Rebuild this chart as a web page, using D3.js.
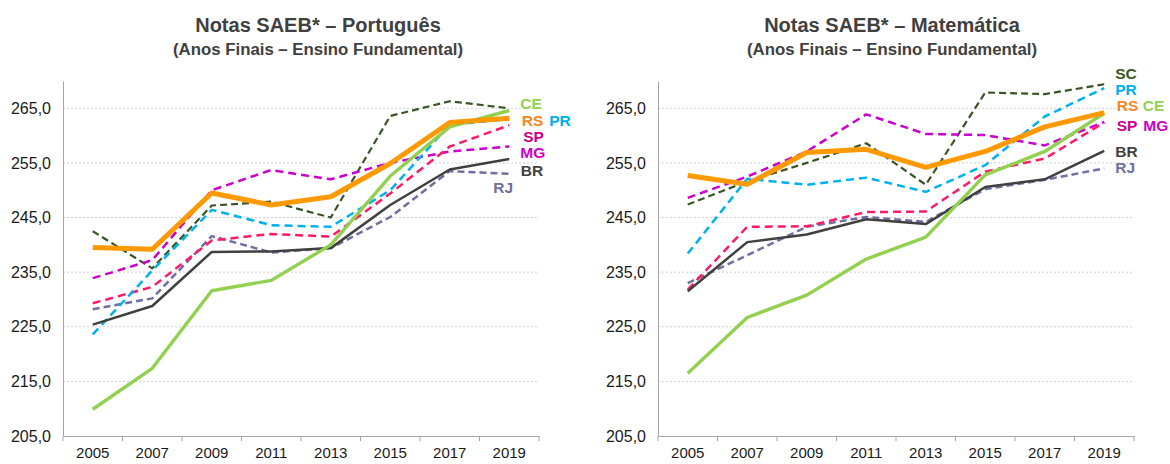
<!DOCTYPE html>
<html>
<head>
<meta charset="utf-8">
<script src="https://cdn.jsdelivr.net/npm/d3@7"></script>
<style>
  body { margin: 0; background: #fff; }
  text { font-family: "Liberation Sans", Arial, sans-serif; }
</style>
</head>
<body>
<div id="vis-svg"></div>
<script>
// anos das avaliações
var years = ["2005", "2007", "2009", "2011", "2013", "2015", "2017", "2019"];
var yTicks = [205, 215, 225, 235, 245, 255, 265];

// Português
var portSC = [242.5, 235.7, 247.2, 247.9, 245.0, 263.6, 266.3, 265.0];
var portRJ = [228.2, 230.2, 241.6, 238.6, 239.4, 245.1, 253.5, 253.0];
var portMG = [233.9, 237.2, 250.0, 253.7, 252.0, 255.0, 257.1, 258.0];
var portSP = [229.3, 232.3, 240.8, 242.0, 241.5, 249.4, 258.0, 261.9];
var portPR = [223.6, 235.3, 246.4, 243.6, 243.3, 250.0, 262.0, 263.0];
var portBR = [225.4, 228.8, 238.7, 238.8, 239.4, 247.3, 253.8, 255.7];
var portCE = [209.9, 217.4, 231.6, 233.5, 240.0, 252.6, 261.6, 264.6];
var portRS = [239.5, 239.2, 249.5, 247.3, 248.8, 254.9, 262.4, 263.2];

// Matemática
var matSC = [247.4, 251.6, 255.0, 258.6, 251.0, 267.9, 267.6, 269.4];
var matRJ = [233.0, 238.1, 243.3, 245.1, 244.2, 250.2, 251.9, 254.0];
var matMG = [248.6, 252.5, 257.1, 263.9, 260.3, 260.1, 258.2, 262.5];
var matSP = [231.8, 243.3, 243.4, 246.0, 246.1, 253.4, 255.8, 262.4];
var matPR = [238.4, 252.1, 251.0, 252.3, 249.7, 254.6, 263.5, 268.7];
var matBR = [231.5, 240.5, 241.9, 244.7, 243.8, 250.6, 252.0, 257.2];
var matCE = [216.5, 226.7, 230.8, 237.4, 241.4, 252.8, 257.1, 264.1];
var matRS = [252.7, 251.1, 256.9, 257.5, 254.2, 257.1, 261.6, 264.2];

// estilos das linhas (ordem = ordem de desenho)
var styles = {
  SC: { color: "#375623", width: 2.2, dash: "7,4" },
  RJ: { color: "#6F6FA3", width: 2.5, dash: "7,4" },
  MG: { color: "#CC00CC", width: 2.5, dash: "8,5" },
  SP: { color: "#FF1A66", width: 2.5, dash: "8,5" },
  PR: { color: "#00B0F0", width: 2.5, dash: "8,5" },
  BR: { color: "#404040", width: 2.5, dash: null },
  CE: { color: "#92D050", width: 3.4, dash: null },
  RS: { color: "#FF9900", width: 5, dash: null }
};
var labelColors = { SC: "#375623", RJ: "#7070A0", MG: "#CC00CC", SP: "#C8008C",
                    PR: "#00B0F0", BR: "#404040", CE: "#92D050", RS: "#F7861C" };

// rótulos: [texto, valor no eixo y, deslocamento x a partir de 2019]
var portLabels = [["CE", 265.9, 11], ["RS", 262.7, 12.5], ["PR", 262.7, 40], ["SP", 259.8, 14],
                  ["MG", 257.0, 11], ["BR", 253.6, 11.5], ["RJ", 250.5, -16]];
var matLabels = [["SC", 271.3, 11], ["PR", 268.5, 11], ["RS", 265.5, 12.5], ["CE", 265.5, 38.5],
                 ["SP", 261.8, 12.5], ["MG", 261.8, 39], ["BR", 257.1, 11], ["RJ", 254.2, 11]];

var width = 1170;
var height = 464;

var svg = d3
  .select("#vis-svg")
  .append("svg")
  .attr("width", width)
  .attr("height", height)
  .style("background", "#fff");

var fmt = d3.formatLocale({ decimal: ",", thousands: ".", grouping: [3], currency: ["R$", ""] }).format(".1f");

drawChart({
  left: 63, right: 539, top: 81, bottom: 436, titleX: 318,
  title: "Notas SAEB* – Português",
  series: { SC: portSC, RJ: portRJ, MG: portMG, SP: portSP, PR: portPR, BR: portBR, CE: portCE, RS: portRS },
  labels: portLabels
});

drawChart({
  left: 658, right: 1134, top: 81, bottom: 436, titleX: 892,
  title: "Notas SAEB* – Matemática",
  series: { SC: matSC, RJ: matRJ, MG: matMG, SP: matSP, PR: matPR, BR: matBR, CE: matCE, RS: matRS },
  labels: matLabels
});

function drawChart(cfg) {
  var g = svg.append("g");

  var x = d3.scaleBand().domain(years).range([cfg.left, cfg.right]);
  var y = d3.scaleLinear().domain([205, 270]).range([cfg.bottom, cfg.top]);
  var cx = function(d, i) { return x(years[i]) + x.bandwidth() / 2; };

  // titulo
  g.append("text")
    .attr("x", cfg.titleX).attr("y", 32)
    .attr("text-anchor", "middle")
    .style("font-size", "20px").style("font-weight", "bold").style("fill", "#404040")
    .text(cfg.title);
  g.append("text")
    .attr("x", cfg.titleX).attr("y", 54.5)
    .attr("text-anchor", "middle")
    .style("font-size", "16.8px").style("font-weight", "bold").style("fill", "#404040")
    .text("(Anos Finais – Ensino Fundamental)");

  // grade
  g.append("g")
    .selectAll("line")
    .data(yTicks.slice(1))
    .enter()
    .append("line")
    .attr("x1", cfg.left).attr("x2", cfg.right)
    .attr("y1", function(d) { return y(d); })
    .attr("y2", function(d) { return y(d); })
    .attr("stroke", "#D0D0D0")
    .attr("stroke-dasharray", "2,2");

  // eixo y
  var yAxis = g.append("g")
    .attr("transform", "translate(" + cfg.left + ",0)")
    .call(d3.axisLeft(y).tickValues(yTicks).tickSize(0).tickPadding(12).tickFormat(fmt));
  yAxis.select(".domain").attr("stroke", "#A6A6A6");
  yAxis.selectAll("text").style("font-size", "16px").style("fill", "#1a1a1a");

  // eixo x
  var xAxis = g.append("g")
    .attr("transform", "translate(0," + cfg.bottom + ")")
    .call(d3.axisBottom(x).tickSize(0).tickPadding(11));
  xAxis.select(".domain").attr("stroke", "#A6A6A6");
  xAxis.selectAll("text").style("font-size", "15px").style("fill", "#1a1a1a");
  xAxis.selectAll(".tick line").remove();
  xAxis.append("g")
    .selectAll("line")
    .data(years.concat(["end"]))
    .enter()
    .append("line")
    .attr("x1", function(d, i) { return cfg.left + i * x.bandwidth(); })
    .attr("x2", function(d, i) { return cfg.left + i * x.bandwidth(); })
    .attr("y1", 0).attr("y2", 5)
    .attr("stroke", "#A6A6A6");

  // linhas
  var line = d3.line()
    .x(cx)
    .y(function(d) { return y(d); });

  Object.keys(cfg.series).forEach(function(k) {
    var s = styles[k];
    g.append("path")
      .datum(cfg.series[k])
      .attr("d", line)
      .attr("fill", "none")
      .attr("stroke", s.color)
      .attr("stroke-width", s.width)
      .attr("stroke-linejoin", "round")
      .attr("stroke-dasharray", s.dash);
  });

  // rotulos
  var xEnd = x(years[years.length - 1]) + x.bandwidth() / 2;
  g.append("g")
    .selectAll("text")
    .data(cfg.labels)
    .enter()
    .append("text")
    .attr("x", function(d) { return xEnd + d[2]; })
    .attr("y", function(d) { return y(d[1]); })
    .attr("dy", "0.36em")
    .style("font-size", "15.5px")
    .style("font-weight", "bold")
    .style("fill", function(d) { return labelColors[d[0]]; })
    .text(function(d) { return d[0]; });
}
</script>
</body>
</html>
